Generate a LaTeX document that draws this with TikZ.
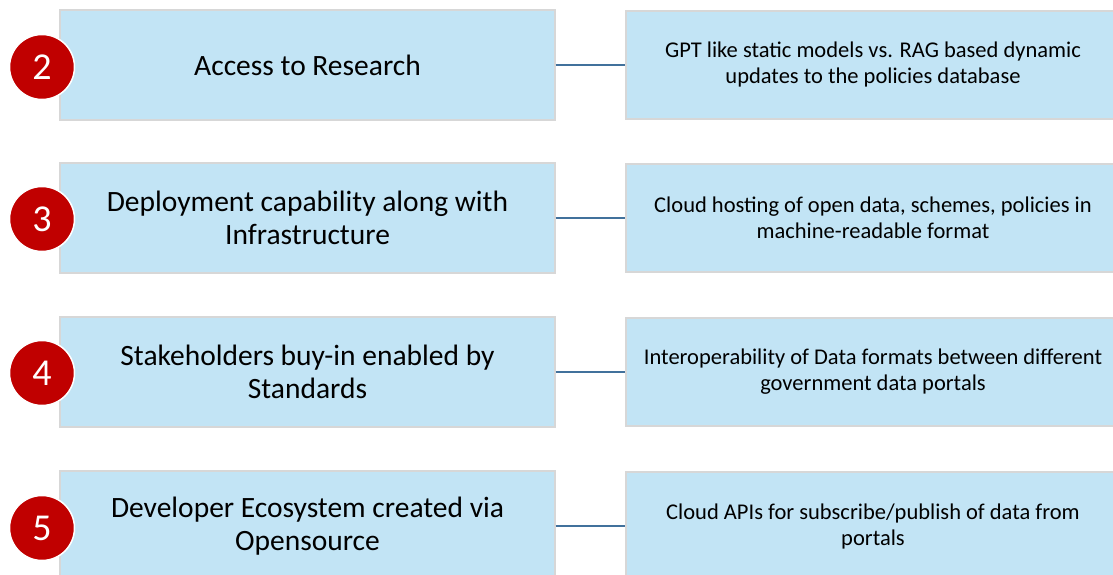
\documentclass[tikz,border=0pt]{standalone}
\usepackage{fontspec}
\setmainfont{Carlito}
\usetikzlibrary{positioning}
\definecolor{boxblue}{RGB}{194,228,245}
\definecolor{boxline}{RGB}{215,215,215}
\definecolor{numred}{RGB}{192,0,0}
\definecolor{linkblue}{RGB}{65,113,156}
\begin{document}
\begin{tikzpicture}
        [
            x=1pt,y=-1pt,
            topic/.style={rectangle,draw=boxline,line width=1.2pt,fill=boxblue,
                minimum width=495pt,minimum height=110pt,align=center,
                font=\fontsize{29.5}{33}\selectfont},
            detail/.style={rectangle,draw=boxline,line width=1.2pt,fill=boxblue,
                minimum width=494pt,minimum height=108pt,align=center,
                font=\fontsize{22.5}{26}\selectfont},
            badge/.style={circle,fill=numred,draw=white,line width=1.5pt,
                minimum size=65pt,inner sep=0pt,text=white,
                font=\fontsize{38}{38}\selectfont},
            link/.style={draw=linkblue,line width=1.6pt},
        ]
    \useasboundingbox (0,0) rectangle (1113,575);

    % left column
    \node[topic] (t2) at (307.5,65) {Access to Research};
    \node[topic] (t3) at (307.5,218) {Deployment capability along with\\Infrastructure};
    \node[topic] (t4) at (307.5,372) {Stakeholders buy-in enabled by\\Standards};
    \node[topic] (t5) at (307.5,526) {Developer Ecosystem created via\\Opensource};

    % right column
    \node[detail] (d2) at (873,65) {GPT like static models vs. RAG based dynamic\\updates to the policies database};
    \node[detail] (d3) at (873,218) {Cloud hosting of open data, schemes, policies in\\machine-readable format};
    \node[detail] (d4) at (873,372) {Interoperability of Data formats between different\\government data portals};
    \node[detail] (d5) at (873,526) {Cloud APIs for subscribe/publish of data from\\portals};

    % links
    \foreach \n in {2,3,4,5}
        \draw[link] (t\n.east) -- (d\n.west);

    % numbers
    \node[badge] (n2) at (42,67) {2};
    \node[badge] (n3) at (42,219) {3};
    \node[badge] (n4) at (42,373) {4};
    \node[badge] (n5) at (42,528) {5};
\end{tikzpicture}
\end{document}
